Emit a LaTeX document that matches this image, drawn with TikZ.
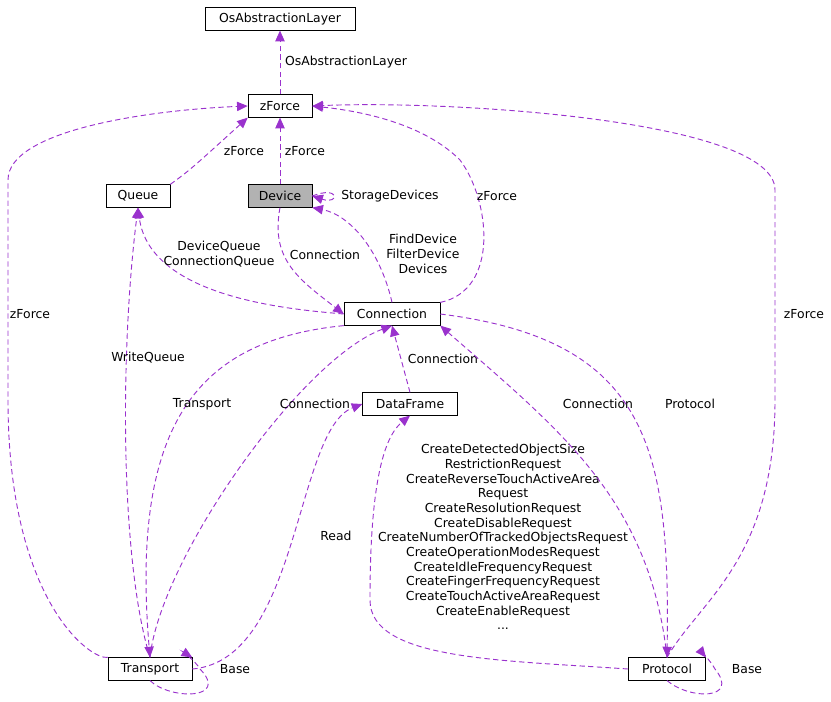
\documentclass[tikz,border=0pt]{standalone}
\usepackage{fontspec}
\setmainfont{DejaVu Sans}
\usetikzlibrary{arrows.meta}
\definecolor{edge}{HTML}{9A32CD}
\begin{document}
\begin{tikzpicture}[x=0.75pt,y=-0.75pt,font=\fontsize{9.3}{11}\selectfont,
  cls/.style = {draw, fill=white, inner sep=0pt, minimum height=17pt},
  dep/.style = {draw=edge, line width=0.7pt, dash pattern=on 4pt off 2.5pt,
    -{Triangle[length=8pt,width=7pt,fill=edge]}},
  lbl/.style = {align=center, inner sep=1pt}]
\useasboundingbox (0,0) rectangle (831,701);

\node[cls, minimum width=112.5pt] (osal) at (280,19) {OsAbstractionLayer};
\node[cls, minimum width=48pt] (zf) at (280,106) {zForce};
\node[cls, minimum width=48pt, fill=black!30] (dev) at (280,196) {Device};
\node[cls, minimum width=48pt] (q) at (138,196) {Queue};
\node[cls, minimum width=72pt] (con) at (392,314) {Connection};
\node[cls, minimum width=71pt] (df) at (410,404) {DataFrame};
\node[cls, minimum width=63pt] (tr) at (150,669) {Transport};
\node[cls, minimum width=58pt] (pr) at (667,669) {Protocol};

% zForce and above
\draw[dep] (zf) -- (osal);
\node[lbl] at (346,62) {OsAbstractionLayer};
\draw[dep] (dev) -- (zf);
\node[lbl] at (305,151) {zForce};
\draw[dep] (q.north east) .. controls (190,170) .. (zf.south west);
\node[lbl] at (244,151) {zForce};
\draw[dep] (tr.north west) .. controls (90,660) and (8,600) .. (8,400)
  -- (8,180) .. controls (8,130) and (150,110) .. (zf.west);
\node[lbl] at (30,314) {zForce};
\draw[dep] (con.north east) .. controls (500,290) and (490,200) .. (460,160)
  .. controls (420,120) and (350,110) .. (zf.east);
\node[lbl] at (497,196) {zForce};
\draw[dep] (pr.north) .. controls (700,600) and (775,560) .. (775,400)
  -- (775,190) .. controls (775,120) and (450,100) .. (zf.east);
\node[lbl] at (804,314) {zForce};

% Device
\draw[dep] (dev.east) .. controls (340,185) and (340,205) .. (dev.east);
\node[lbl] at (390,196) {StorageDevices};
\draw[dep] (con.north) .. controls (380,250) and (350,215) .. (dev.south east);
\node[lbl] at (423,254) {FindDevice\\FilterDevice\\Devices};
\draw[dep] (dev.south) .. controls (270,260) and (300,280) .. (con.west);
\node[lbl] at (325,255) {Connection};

% Queue
\draw[dep] (con.west) .. controls (300,310) and (150,300) .. (q.south);
\node[lbl] at (219,254) {DeviceQueue\\ConnectionQueue};
\draw[dep] (tr.north) .. controls (120,560) and (120,350) .. (q.south);
\node[lbl] at (148,358) {WriteQueue};

% Transport and Connection
\draw[dep] (con.south west) .. controls (200,340) and (130,420) .. (tr.north);
\node[lbl] at (202,404) {Transport};
\draw[dep] (tr.north) .. controls (160,560) and (300,360) .. (con.south);
\node[lbl] at (315,404) {Connection};
\draw[dep] (df.north) -- (con.south);
\node[lbl] at (443,359) {Connection};
\draw[dep] (tr.east) .. controls (300,660) and (295,430) .. (df.west);
\node[lbl] at (336,536) {Read};

% Protocol
\draw[dep] (pr.west) .. controls (500,660) and (370,660) .. (370,600)
  .. controls (370,500) and (380,440) .. (df.south);
\node[lbl] at (503,537) {CreateDetectedObjectSize\\RestrictionRequest\\
  CreateReverseTouchActiveArea\\Request\\CreateResolutionRequest\\
  CreateDisableRequest\\CreateNumberOfTrackedObjectsRequest\\
  CreateOperationModesRequest\\CreateIdleFrequencyRequest\\
  CreateFingerFrequencyRequest\\CreateTouchActiveAreaRequest\\
  CreateEnableRequest\\...};
\draw[dep] (pr.north) .. controls (650,500) and (560,430) .. (con.south east);
\node[lbl] at (598,404) {Connection};
\draw[dep] (con.east) .. controls (650,340) and (670,450) .. (pr.north);
\node[lbl] at (690,404) {Protocol};

% self loops
\draw[dep] (tr.south) .. controls (170,700) and (230,700) .. (200,669)
  .. controls (195,660) and (180,650) .. (tr.north east);
\node[lbl] at (235,669) {Base};
\draw[dep] (pr.south) .. controls (690,700) and (740,700) .. (715,669)
  .. controls (710,660) and (700,650) .. (pr.north east);
\node[lbl] at (747,669) {Base};
\end{tikzpicture}
\end{document}
